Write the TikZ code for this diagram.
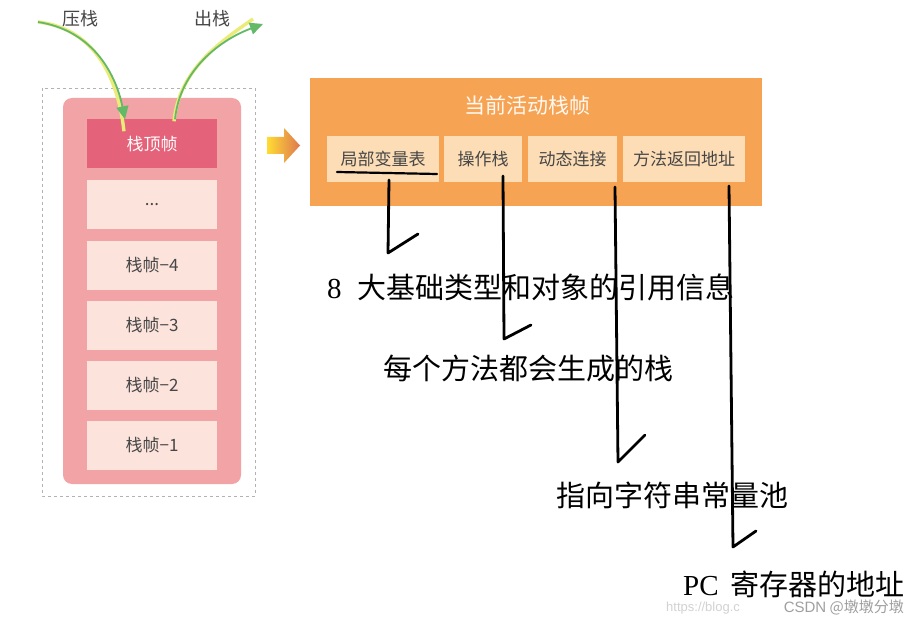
\documentclass[tikz,border=0pt]{standalone}
\usepackage{fontspec}
\setmainfont{Noto Sans CJK SC}
\newfontfamily\serifl{Liberation Serif}
\newfontfamily\sansl{Liberation Sans}
\usetikzlibrary{arrows.meta}
\definecolor{pinkbg}{RGB}{242,163,165}
\definecolor{pinktop}{RGB}{228,98,122}
\definecolor{pinklight}{RGB}{252,227,220}
\definecolor{orangebg}{RGB}{246,163,84}
\definecolor{orangelight}{RGB}{252,221,182}
\definecolor{txtgray}{RGB}{70,70,70}
\definecolor{arrgreen}{RGB}{100,185,105}
\definecolor{arryellow}{RGB}{235,235,120}
\tikzset{
  framebox/.style={fill=pinklight, minimum width=130pt, minimum height=49pt, inner sep=0pt,
    font=\fontsize{17}{17}\selectfont, text=txtgray},
  subbox/.style={fill=orangelight, minimum height=46pt, inner sep=0pt,
    font=\fontsize{17}{17}\selectfont, text=txtgray},
  pen/.style={black, line width=2.8pt, line cap=round, line join=round},
  bigtxt/.style={anchor=west, inner sep=0pt, font=\fontsize{29}{29}\selectfont, text=black},
  flow/.style={arrgreen, line width=1.8pt, -{Triangle[length=13pt,width=12pt]}},
  flowglow/.style={arryellow, line width=3.4pt},
  toplabel/.style={font=\fontsize{18}{18}\selectfont, text=txtgray, inner sep=0pt}
}
\begin{document}
\begin{tikzpicture}[x=1pt,y=-1pt]
\useasboundingbox (0,0) rectangle (919,623);
\fill[white] (0,0) rectangle (919,623);

% left stack
\draw[gray!60, dashed, line width=0.6pt] (42,88) rectangle (255,496);
\node[fill=pinkbg, rounded corners=9pt, minimum width=178pt, minimum height=386pt, inner sep=0pt] (stack) at (152,291) {};
\node[framebox, fill=pinktop, text=white!95!pink] (top) at (152,144) {栈顶帧};
\node[framebox] (dots) at (152,204.5) {...};
\node[framebox] (f4) at (152,265) {栈帧−4};
\node[framebox] (f3) at (152,325) {栈帧−3};
\node[framebox] (f2) at (152,385.5) {栈帧−2};
\node[framebox] (f1) at (152,445.5) {栈帧−1};

% push / pop arrows
\node[toplabel] (push) at (80,19) {压栈};
\node[toplabel] (pop) at (212,19) {出栈};
\coordinate (pushstart) at (38,22);
\coordinate (popend) at (263,24);
\draw[flowglow] (pushstart) .. controls (90,28) and (117,70) .. ([xshift=-28pt,yshift=-12pt]top.north);
\draw[flow] (pushstart) .. controls (90,30) and (115,70) .. ([xshift=-27pt]top.north);
\draw[flowglow] ([xshift=22pt,yshift=-2pt]top.north) .. controls (179,70) and (220,42) .. ([xshift=-10pt,yshift=5pt]popend);
\draw[flow] ([xshift=23pt]top.north) .. controls (180,70) and (220,40) .. (popend);

% orange block arrow
\shade[left color=orange!35!yellow!80!white, right color={rgb,255:red,222;green,120;blue,80}]
  (267,137) -- (284,137) -- (284,128) -- (300,145.5) -- (284,163) -- (284,154) -- (267,154) -- cycle;

% current frame
\node[fill=orangebg, minimum width=452pt, minimum height=128pt, inner sep=0pt] (cur) at (536,142) {};
\node[font=\fontsize{21}{21}\selectfont, text=white!95!orange, inner sep=0pt] (title) at (527,105) {当前活动栈帧};
\node[subbox, minimum width=112pt] (lv) at (383,159) {局部变量表};
\node[subbox, minimum width=78pt] (op) at (483,159) {操作栈};
\node[subbox, minimum width=89pt] (dl) at (572.5,159) {动态连接};
\node[subbox, minimum width=122pt] (ra) at (684,159) {方法返回地址};

% hand drawn marks
\draw[black, line width=2.2pt, line cap=round] (337,172) -- (437,174);
\coordinate (c1) at (389,180);
\coordinate (c2) at (503,176);
\coordinate (c3) at (615,187);
\coordinate (c4) at (729,186);
\draw[pen] (c1) -- (388,253) -- (418,234);
\draw[pen] (c2) -- (504,339) -- (531,325);
\draw[pen] (c3) -- (618,462) -- (645,435);
\draw[pen] (c4) -- (733,547) -- (756,531);

% explanations
\node[bigtxt] (t1) at (327,287) {\makebox[30pt][l]{\serifl 8}大基础类型和对象的引用信息};
\node[bigtxt] (t2) at (383,368) {每个方法都会生成的栈};
\node[bigtxt] (t3) at (556,495) {指向字符串常量池};
\node[bigtxt] (t4) at (683,584) {\makebox[47pt][l]{\serifl PC}寄存器的地址};

% watermark
\node[anchor=west, inner sep=0pt, font=\sansl\fontsize{13}{13}\selectfont, text=gray!35] (wm1) at (666,608) {https://blog.c};
\node[anchor=east, inner sep=0pt, font=\fontsize{15}{15}\selectfont, text=gray!75] (wm2) at (904,608) {{\sansl CSDN} @墩墩分墩};
\end{tikzpicture}
\end{document}
